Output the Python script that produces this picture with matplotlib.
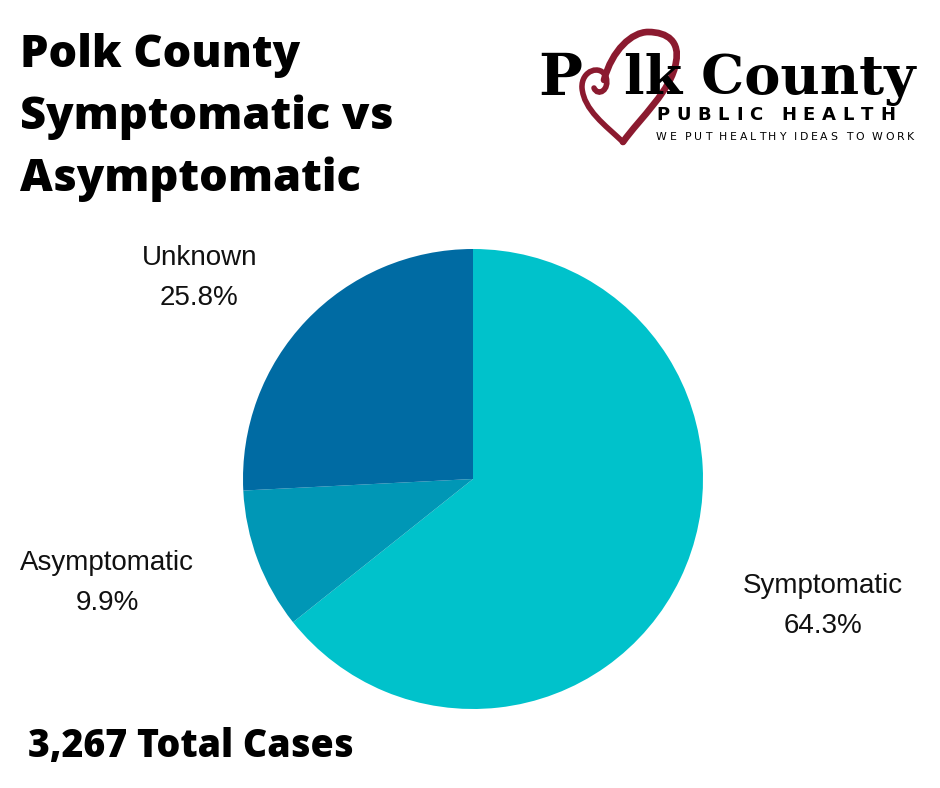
import numpy as np
import matplotlib.pyplot as plt
from matplotlib.path import Path
from matplotlib.patches import PathPatch

# data
categories = ["Symptomatic", "Asymptomatic", "Unknown"]
shares = [64.3, 9.9, 25.8]
colors = ["#00C2CB", "#0097B6", "#006BA3"]
total_cases = 3267
title_lines = ["Polk County", "Symptomatic vs", "Asymptomatic"]

W, H = 940, 788
fig = plt.figure(figsize=(W / 100, H / 100), dpi=100)
fig.patch.set_facecolor("white")
renderer = fig.canvas.get_renderer()

# overlay in pixel coordinates (y down) for text and logo
ov = fig.add_axes([0, 0, 1, 1])
ov.set_xlim(0, W)
ov.set_ylim(H, 0)
ov.axis("off")


def spaced_text(x0, x1, y, s, **kw):
    # spread the characters of s evenly between x0 and x1
    widths = []
    arts = []
    for ch in s:
        t = ov.text(0, y, ch, va="baseline", ha="left", **kw)
        arts.append(t)
        if ch == " ":
            widths.append(kw.get("fontsize", 10) * 0.35)
        else:
            widths.append(t.get_window_extent(renderer).width)
    gap = (x1 - x0 - sum(widths)) / (len(s) - 1)
    x = x0
    for t, w in zip(arts, widths):
        t.set_x(x)
        x += w + gap


# pie
cx, cy, r = 473, 479, 230
ax = fig.add_axes([(cx - r) / W, (H - cy - r) / H, 2 * r / W, 2 * r / H])
ax.pie(shares, colors=colors, startangle=90, counterclock=False,
       wedgeprops=dict(linewidth=0))
ax.set_xlim(-1, 1)
ax.set_ylim(-1, 1)
ax.set_aspect("equal")

# slice labels (data coords of pie axes)
label_pos = [(1.52, -0.552), (-1.59, -0.45), (-1.19, 0.874)]
for name, val, (lx, ly) in zip(categories, shares, label_pos):
    ax.text(lx, ly, f"{name}\n{val}%", ha="center", va="center",
            fontsize=20, family="Liberation Sans", linespacing=1.7,
            color="#111111", clip_on=False)

# title
for i, line in enumerate(title_lines):
    ov.text(20, 67 + i * 62, line, fontsize=32.5, fontweight=800,
            family="Open Sans", va="baseline", ha="left", color="black")

ov.text(28, 757, f"{total_cases:,} Total Cases", fontsize=27,
        fontweight=800, family="Open Sans", va="baseline", ha="left")

# logo: heart with swirl
red = "#8B1A2F"
swirl = [(623, 142), (605, 125), (584, 110), (582, 88),
         (581, 70), (601, 64), (606, 77),
         (610, 90), (598, 97), (594, 88)]
ov.add_patch(PathPatch(Path(swirl, [Path.MOVETO] + [Path.CURVE4] * 9),
                       fill=False, ec=red, lw=4, capstyle="round"))
lobe = [(604, 80), (612, 50), (632, 32), (648, 32),
        (668, 32), (680, 42), (676, 62),
        (672, 90), (640, 118), (623, 142)]
ov.add_patch(PathPatch(Path(lobe, [Path.MOVETO] + [Path.CURVE4] * 9),
                       fill=False, ec=red, lw=4.8, capstyle="round"))
ov.text(538, 95, "P", fontsize=42, fontweight="bold", family="DejaVu Serif",
        va="baseline", ha="left")
ov.text(624, 94, "lk County", fontsize=39, fontweight="bold",
        family="DejaVu Serif", va="baseline", ha="left")
spaced_text(656, 895, 119.5, "PUBLIC HEALTH", fontsize=13, fontweight="bold",
            family="DejaVu Sans")
spaced_text(656, 914, 140, "WE PUT HEALTHY IDEAS TO WORK", fontsize=7.8,
            family="DejaVu Sans")

fig.savefig("out.png", dpi=100, facecolor="white")
